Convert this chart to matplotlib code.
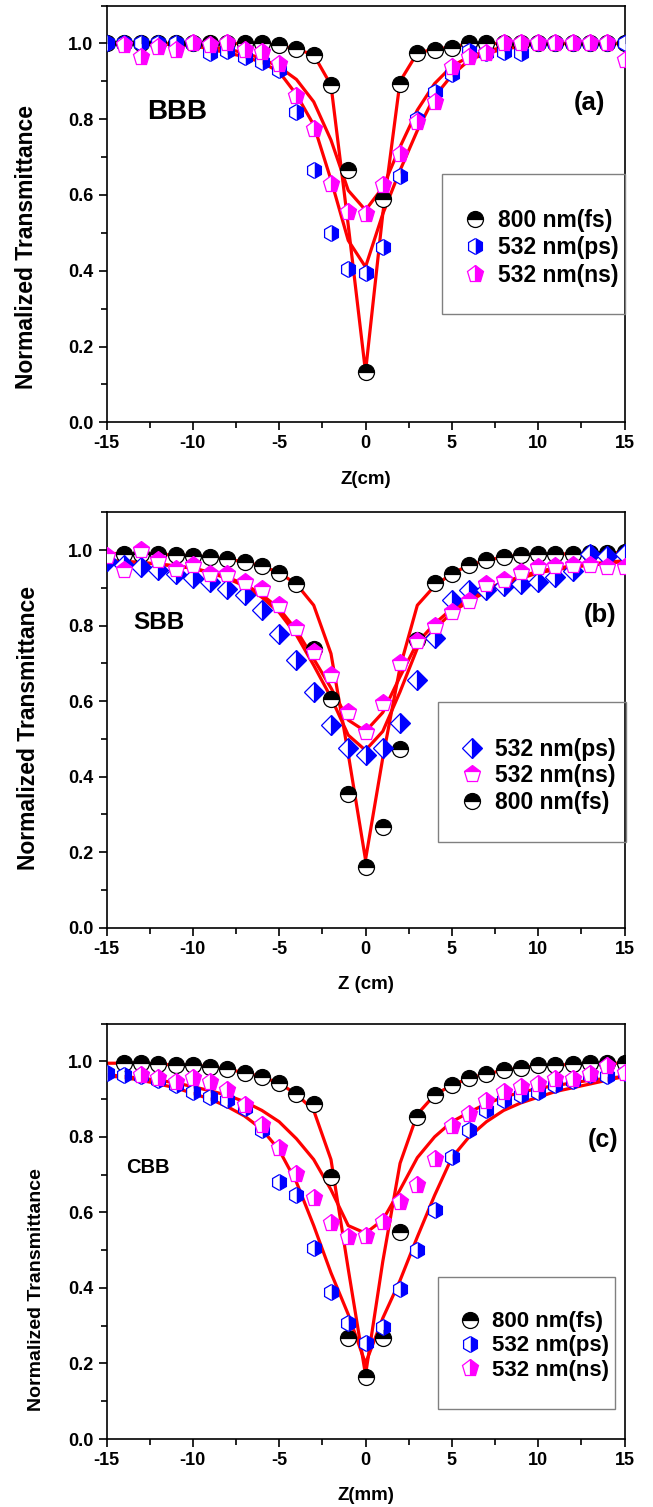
import numpy as np
import matplotlib

matplotlib.use("Agg")
import matplotlib.pyplot as plt
from matplotlib.patches import Rectangle
from matplotlib.ticker import MultipleLocator, FormatStrFormatter

plt.rcParams.update({
    "font.family": ["Liberation Sans", "DejaVu Sans"],
    "font.weight": "bold",
    "axes.unicode_minus": False,
    "axes.linewidth": 1.2,
})

nan = np.nan
Z = [-15, -14, -13, -12, -11, -10, -9, -8, -7, -6, -5, -4, -3, -2, -1, 0,
     1, 2, 3, 4, 5, 6, 7, 8, 9, 10, 11, 12, 13, 14, 15]

# ---- panel (a) BBB ----
fs_a = [1.0, 1.0, 1.0, 1.0, 1.0, 1.0, 1.0, 1.0, 1.0, 1.0, 0.995, 0.985, 0.97, 0.89, 0.667, 0.133,
        0.59, 0.894, 0.974, 0.984, 0.989, 1.0, 1.0, 1.0, 1.0, 1.0, 1.0, 1.0, 1.0, 1.0, 1.0]
ps_a = [1.0, 1.0, 1.0, 1.0, 1.0, 1.0, 0.975, 0.98, 0.965, 0.95, 0.93, 0.82, 0.667, 0.50, 0.405, 0.394,
        0.463, 0.65, 0.80, 0.872, 0.92, 0.98, 0.974, 0.978, 0.974, 1.0, 1.0, 1.0, 1.0, 1.0, 1.0]
ns_a = [nan, 0.995, 0.965, 0.99, 0.982, 1.0, 0.995, 1.0, 0.982, 0.978, 0.947, 0.86, 0.775, 0.63, 0.555, 0.55,
        0.626, 0.707, 0.793, 0.846, 0.938, 0.965, 0.974, 1.0, 1.0, 1.0, 1.0, 1.0, 1.0, 1.0, 0.956]
fit_fs_a = [1.0, 1.0, 1.0, 1.0, 1.0, 1.0, 1.0, 1.0, 1.0, 1.0, 0.995, 0.985, 0.97, 0.89, 0.52, 0.133,
            0.55, 0.9, 0.975, 0.985, 0.99, 1.0, 1.0, 1.0, 1.0, 1.0, 1.0, 1.0, 1.0, 1.0, 1.0]
fit_ps_a = [1.0, 1.0, 1.0, 1.0, 0.998, 0.995, 0.985, 0.975, 0.965, 0.95, 0.925, 0.865, 0.785, 0.64, 0.48, 0.41,
            0.55, 0.665, 0.77, 0.86, 0.916, 0.956, 0.974, 0.985, 0.992, 1.0, 1.0, 1.0, 1.0, 1.0, 1.0]
fit_ns_a = [1.0, 1.0, 1.0, 0.998, 0.997, 0.995, 0.99, 0.985, 0.975, 0.96, 0.938, 0.905, 0.846, 0.745, 0.612, 0.56,
            0.62, 0.727, 0.824, 0.894, 0.94, 0.965, 0.98, 0.99, 0.995, 1.0, 1.0, 1.0, 1.0, 1.0, 1.0]

# ---- panel (b) SBB ----
fs_b = [nan, 0.991, 0.991, 0.989, 0.987, 0.985, 0.982, 0.976, 0.969, 0.958, 0.94, 0.91, 0.737, 0.607, 0.354, 0.162,
        0.266, 0.472, 0.762, 0.912, 0.938, 0.96, 0.973, 0.982, 0.987, 0.99, 0.99, 0.99, 0.992, 0.992, 0.995]
ps_b = [0.97, 0.96, 0.955, 0.947, 0.938, 0.925, 0.916, 0.898, 0.881, 0.841, 0.779, 0.709, 0.625, 0.537, 0.475, 0.457,
        0.475, 0.543, 0.656, 0.766, 0.868, 0.894, 0.895, 0.905, 0.91, 0.916, 0.93, 0.946, 0.99, 0.985, 0.99]
ns_b = [0.985, 0.947, 1.0, 0.975, 0.951, 0.96, 0.938, 0.938, 0.916, 0.898, 0.854, 0.795, 0.73, 0.669, 0.572, 0.519,
        0.594, 0.70, 0.76, 0.80, 0.836, 0.866, 0.91, 0.92, 0.942, 0.955, 0.958, 0.96, 0.96, 0.956, 0.956]
fit_fs_b = [0.991, 0.991, 0.99, 0.989, 0.987, 0.985, 0.982, 0.976, 0.969, 0.958, 0.94, 0.91, 0.854, 0.726, 0.46, 0.18,
            0.45, 0.69, 0.854, 0.905, 0.938, 0.96, 0.973, 0.982, 0.987, 0.99, 0.99, 0.99, 0.992, 0.992, 0.995]
fit_ps_b = [0.972, 0.97, 0.967, 0.963, 0.958, 0.952, 0.94, 0.925, 0.905, 0.875, 0.835, 0.775, 0.695, 0.61, 0.51, 0.47,
            0.52, 0.625, 0.74, 0.79, 0.835, 0.865, 0.89, 0.91, 0.925, 0.94, 0.948, 0.955, 0.96, 0.965, 0.97]
fit_ns_b = [0.972, 0.97, 0.967, 0.963, 0.958, 0.952, 0.942, 0.928, 0.91, 0.882, 0.845, 0.788, 0.712, 0.635, 0.55, 0.52,
            0.57, 0.665, 0.755, 0.805, 0.845, 0.872, 0.897, 0.915, 0.93, 0.944, 0.952, 0.958, 0.963, 0.968, 0.972]

# ---- panel (c) CBB ----
fs_c = [nan, 0.995, 0.996, 0.993, 0.99, 0.99, 0.986, 0.979, 0.97, 0.959, 0.942, 0.913, 0.887, 0.693, 0.267, 0.165,
        0.267, 0.549, 0.853, 0.911, 0.937, 0.955, 0.967, 0.976, 0.983, 0.989, 0.99, 0.992, 0.996, 0.995, 0.995]
ps_c = [0.968, 0.964, 0.96, 0.95, 0.937, 0.92, 0.906, 0.898, 0.876, 0.818, 0.681, 0.646, 0.505, 0.39, 0.306, 0.253,
        0.297, 0.396, 0.5, 0.607, 0.748, 0.818, 0.87, 0.897, 0.91, 0.92, 0.938, 0.947, 0.964, 0.96, 0.97]
ns_c = [nan, nan, 0.964, 0.955, 0.946, 0.955, 0.946, 0.924, 0.884, 0.831, 0.77, 0.703, 0.637, 0.571, 0.536, 0.538,
        0.575, 0.628, 0.672, 0.742, 0.829, 0.86, 0.896, 0.918, 0.931, 0.94, 0.953, 0.953, 0.966, 0.988, 0.97]
fit_fs_c = [0.995, 0.995, 0.995, 0.993, 0.99, 0.99, 0.986, 0.979, 0.97, 0.959, 0.942, 0.913, 0.87, 0.74, 0.45, 0.17,
            0.47, 0.73, 0.86, 0.911, 0.937, 0.955, 0.967, 0.976, 0.983, 0.989, 0.99, 0.992, 0.994, 0.995, 0.995]
fit_ps_c = [0.962, 0.957, 0.95, 0.94, 0.93, 0.915, 0.9, 0.88, 0.855, 0.82, 0.765, 0.68, 0.565, 0.44, 0.33, 0.2,
            0.32, 0.42, 0.535, 0.645, 0.745, 0.8, 0.84, 0.87, 0.89, 0.905, 0.92, 0.93, 0.94, 0.95, 0.96]
fit_ns_c = [0.965, 0.96, 0.955, 0.95, 0.943, 0.933, 0.922, 0.91, 0.893, 0.87, 0.84, 0.795, 0.74, 0.66, 0.565, 0.545,
            0.58, 0.66, 0.745, 0.8, 0.84, 0.865, 0.888, 0.905, 0.918, 0.928, 0.936, 0.943, 0.95, 0.955, 0.96]

LBL_FS = "800 nm(fs)"
LBL_PS = "532 nm(ps)"
LBL_NS = "532 nm(ns)"

RED = "#ff0000"
BLUE = "#0000ff"
MAG = "#ff00ff"


def mstyle(marker, color, fill, ms=11.5):
    return dict(marker=marker, ls="none", ms=ms, mec=color, mfc=color,
                mfcalt="white", fillstyle=fill, mew=0.9)


def setup_axes(ax, xlabel, ylabel_fs, ylab_xy):
    ax.set_xlim(-15, 15)
    ax.set_ylim(0, 1.1)
    ax.xaxis.set_major_locator(MultipleLocator(5))
    ax.xaxis.set_minor_locator(MultipleLocator(2.5))
    ax.yaxis.set_major_locator(MultipleLocator(0.2))
    ax.yaxis.set_minor_locator(MultipleLocator(0.1))
    ax.yaxis.set_major_formatter(FormatStrFormatter("%.1f"))
    ax.tick_params(which="both", direction="out", width=1.2, labelsize=13, pad=3.5,
                   top=False, right=False)
    ax.tick_params(which="major", length=5.8)
    ax.tick_params(which="minor", length=4)
    for lab in ax.get_xticklabels() + ax.get_yticklabels():
        lab.set_fontweight("bold")
    ax.set_xlabel(xlabel, fontsize=13.5, fontweight="bold")
    ax.xaxis.label.set_va("center")
    ax.xaxis.set_label_coords(0.5, -0.137)
    ax.set_ylabel("Normalized Transmittance", fontsize=ylabel_fs, fontweight="bold")
    ax.yaxis.label.set_va("center")
    ax.yaxis.set_label_coords(*ylab_xy)


def add_legend(ax, handles, labels, anchor, box, fs, spacing, pad):
    leg = ax.legend(handles, labels, loc="center left", bbox_to_anchor=anchor,
                    frameon=False, borderpad=0, borderaxespad=0, handlelength=1.0,
                    handletextpad=pad, labelspacing=spacing,
                    prop={"size": fs, "weight": "bold"})
    leg.set_zorder(6)
    ax.add_patch(Rectangle((box[0], box[1]), box[2], box[3], transform=ax.transAxes,
                           fill=False, ec="#808080", lw=1.0, zorder=5, clip_on=False))


fig = plt.figure(figsize=(6.53, 15.07), dpi=100)
ax_a = fig.add_axes([0.1631, 0.7198, 0.7933, 0.2765])
ax_b = fig.add_axes([0.1631, 0.3844, 0.7933, 0.2756])
ax_c = fig.add_axes([0.1631, 0.0451, 0.7933, 0.2757])

# panel (a)
for fit in (fit_fs_a, fit_ps_a, fit_ns_a):
    ax_a.plot(Z, fit, color=RED, lw=2.3, zorder=2)
h_fs = ax_a.plot(Z, fs_a, zorder=3, **mstyle("o", "black", "top"))[0]
h_ps = ax_a.plot(Z, ps_a, zorder=3, **mstyle("h", BLUE, "right"))[0]
h_ns = ax_a.plot(Z, ns_a, zorder=3, **mstyle("p", MAG, "right", 12.5))[0]
setup_axes(ax_a, "Z(cm)", 16.5, (-0.155, 0.42))
ax_a.text(0.1355, 0.745, "BBB", transform=ax_a.transAxes, ha="center", va="center",
          fontsize=20, fontweight="bold")
ax_a.text(0.933, 0.766, "(a)", transform=ax_a.transAxes, ha="center", va="center",
          fontsize=18.5, fontweight="bold")
add_legend(ax_a, [h_fs, h_ps, h_ns], [LBL_FS, LBL_PS, LBL_NS],
           (0.689, 0.419), (0.648, 0.26, 0.352, 0.336), 16.5, 0.19, 0.5)

# panel (b)
for fit in (fit_fs_b, fit_ps_b, fit_ns_b):
    ax_b.plot(Z, fit, color=RED, lw=2.3, zorder=2)
h_fs = ax_b.plot(Z, fs_b, zorder=3, **mstyle("o", "black", "top"))[0]
h_ps = ax_b.plot(Z, ps_b, zorder=3, **mstyle("D", BLUE, "right", 10))[0]
h_ns = ax_b.plot(Z, ns_b, zorder=3, **mstyle("p", MAG, "top", 12.5))[0]
setup_axes(ax_b, "Z (cm)", 16.5, (-0.15, 0.48))
ax_b.text(0.1008, 0.734, "SBB", transform=ax_b.transAxes, ha="center", va="center",
          fontsize=17.5, fontweight="bold")
ax_b.text(0.953, 0.753, "(b)", transform=ax_b.transAxes, ha="center", va="center",
          fontsize=18.5, fontweight="bold")
add_legend(ax_b, [h_ps, h_ns, h_fs], [LBL_PS, LBL_NS, LBL_FS],
           (0.683, 0.366), (0.64, 0.206, 0.362, 0.338), 16.5, 0.16, 0.5)

# panel (c)
for fit in (fit_fs_c, fit_ps_c, fit_ns_c):
    ax_c.plot(Z, fit, color=RED, lw=2.3, zorder=2)
h_fs = ax_c.plot(Z, fs_c, zorder=3, **mstyle("o", "black", "top"))[0]
h_ps = ax_c.plot(Z, ps_c, zorder=3, **mstyle("h", BLUE, "right"))[0]
h_ns = ax_c.plot(Z, ns_c, zorder=3, **mstyle("p", MAG, "right", 12.5))[0]
setup_axes(ax_c, "Z(mm)", 14, (-0.135, 0.36))
ax_c.text(0.0807, 0.653, "CBB", transform=ax_c.transAxes, ha="center", va="center",
          fontsize=14.5, fontweight="bold")
ax_c.text(0.959, 0.72, "(c)", transform=ax_c.transAxes, ha="center", va="center",
          fontsize=18, fontweight="bold")
add_legend(ax_c, [h_fs, h_ps, h_ns], [LBL_FS, LBL_PS, LBL_NS],
           (0.68, 0.224), (0.639, 0.072, 0.343, 0.319), 16, 0.14, 0.48)

fig.savefig("out.png", dpi=100)
